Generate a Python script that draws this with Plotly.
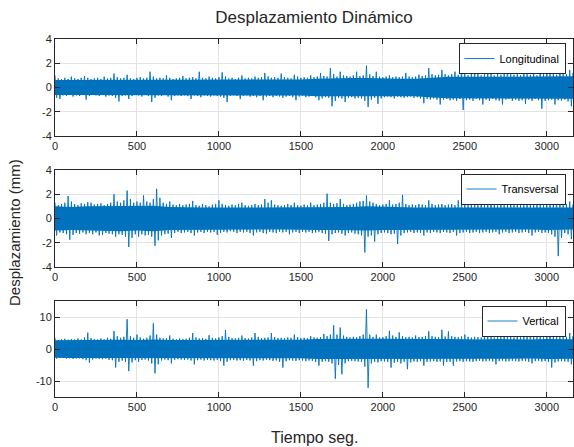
import plotly.graph_objects as go

# Time axis: envelope readings every STEP seconds
STEP = 20
CORE_STEP = 100
X_MAX = 3160
X_TICKS = [0, 500, 1000, 1500, 2000, 2500, 3000]

# Longitudinal: local upper / lower peaks per 20 s window (mm)
L_up = [
    1.0, 0.75, 0.7, 0.8, 0.7, 0.9, 0.75, 0.7, 0.8, 0.95,
    0.8, 0.7, 0.75, 0.8, 0.7, 0.9, 0.75, 0.8, 1.15, 0.85,
    0.75, 0.8, 1.05, 0.75, 0.7, 0.8, 0.85, 0.75, 0.8, 1.3,
    0.9, 0.75, 0.8, 0.75, 1.0, 0.8, 0.7, 0.75, 0.8, 0.95,
    0.75, 0.8, 0.85, 0.75, 1.3, 0.8, 0.75, 0.9, 0.8, 0.75,
    0.85, 1.25, 0.9, 0.75, 0.8, 0.7, 0.8, 1.0, 0.75, 0.8,
    0.75, 0.9, 0.8, 0.85, 1.2, 0.9, 0.8, 0.85, 0.8, 1.15,
    0.85, 0.8, 0.75, 1.05, 0.9, 0.8, 0.85, 0.8, 1.0, 0.85,
    0.9, 1.2, 0.95, 0.9, 1.6, 1.1, 0.9, 1.3, 1.0, 0.95,
    0.9, 1.0, 1.3, 0.95, 1.0, 1.8, 1.1, 0.95, 1.3, 0.9,
    0.85, 0.9, 1.0, 0.85, 0.9, 0.85, 0.9, 1.2, 0.9, 0.85,
    0.9, 1.05, 0.95, 1.0, 1.6, 1.1, 1.0, 1.05, 1.45, 1.1,
    1.0, 1.1, 1.3, 1.05, 1.55, 1.1, 1.0, 1.15, 1.3, 1.2,
    1.0, 1.1, 1.3, 1.15, 1.0, 1.1, 1.05, 1.15, 1.45, 1.1,
    1.05, 1.1, 1.0, 1.3, 1.1, 1.05, 1.15, 1.0, 1.45, 1.1,
    1.6, 1.2, 1.1, 1.05, 1.8, 1.2, 1.1, 1.45, 1.2,
]
L_lo = [
    -0.85, -0.95, -0.65, -0.7, -0.6, -0.75, -0.65, -0.7, -0.6, -1.0,
    -0.7, -0.6, -0.65, -0.7, -0.6, -0.75, -0.65, -0.7, -0.85, -1.15,
    -0.7, -0.65, -0.95, -0.7, -0.6, -0.65, -0.75, -0.6, -0.7, -1.2,
    -0.85, -0.65, -0.7, -0.6, -0.75, -1.05, -0.7, -0.65, -0.7, -0.65,
    -0.7, -0.95, -0.65, -0.7, -0.8, -0.65, -0.7, -0.75, -0.65, -0.7,
    -0.75, -0.85, -1.2, -0.7, -0.65, -0.7, -0.95, -0.7, -0.65, -0.75,
    -0.7, -0.8, -0.7, -1.05, -0.75, -0.7, -0.8, -0.7, -0.75, -0.85,
    -0.75, -0.7, -0.8, -1.05, -0.75, -0.7, -0.8, -0.75, -0.7, -0.8,
    -1.05, -0.9, -0.8, -0.85, -1.55, -1.1, -0.85, -0.9, -1.2, -0.85,
    -0.8, -0.9, -0.85, -0.9, -1.1, -1.6, -1.0, -0.85, -1.35, -0.9,
    -0.8, -0.75, -0.8, -0.9, -0.75, -0.8, -0.85, -0.8, -0.75, -0.85,
    -0.8, -0.9, -1.3, -0.95, -1.0, -0.9, -1.0, -1.4, -1.0, -0.95,
    -1.05, -1.0, -1.1, -0.95, -1.85, -1.05, -1.0, -1.1, -0.95, -1.05,
    -1.4, -1.0, -1.1, -0.95, -1.05, -1.1, -1.4, -1.0, -0.95, -1.1,
    -1.0, -1.1, -1.05, -1.35, -1.0, -1.1, -0.95, -1.05, -1.75, -1.1,
    -1.05, -1.0, -1.4, -1.05, -1.1, -1.0, -1.15, -1.55, -1.1,
]
# half-width of the dense core of the signal, per 100 s window
L_core = [
    0.62, 0.62, 0.62, 0.62, 0.67, 0.62, 0.67, 0.62, 0.62, 0.67,
    0.67, 0.62, 0.67, 0.67, 0.67, 0.67, 0.72, 0.78, 0.78, 0.78,
    0.72, 0.72, 0.72, 0.82, 0.88, 0.88, 0.88, 0.92, 0.88, 0.88,
    0.92, 0.92, 0.92,
]

# Transversal
T_up = [
    1.3, 1.1, 1.2, 1.3, 1.85, 1.4, 1.2, 1.1, 1.25, 1.2,
    1.35, 1.3, 1.15, 1.2, 1.25, 1.1, 1.2, 1.3, 2.0, 1.4,
    1.3, 1.5, 2.3, 1.6, 1.3, 1.4, 1.3, 1.9, 1.4, 1.3,
    1.6, 2.45, 1.7, 1.3, 1.2, 1.4, 1.15, 1.1, 1.2, 1.1,
    1.15, 1.2, 1.45, 1.1, 1.05, 1.2, 1.1, 1.0, 1.15, 1.2,
    1.5, 1.2, 1.1, 1.05, 1.15, 1.1, 1.2, 1.3, 1.1, 1.05,
    1.1, 1.2, 1.1, 1.15, 1.6, 1.3, 1.5, 1.15, 1.1, 1.05,
    1.1, 1.2, 1.1, 1.3, 1.1, 1.05, 1.15, 1.1, 1.3, 1.1,
    1.15, 1.2, 1.3, 2.05, 1.3, 1.2, 1.25, 1.6, 1.2, 1.1,
    1.15, 1.2, 1.3, 1.4, 1.45, 1.9, 1.4, 1.3, 1.2, 1.1,
    1.15, 1.2, 1.5, 1.15, 1.2, 1.3, 1.95, 1.2, 1.1, 1.15,
    1.1, 1.2, 1.15, 1.1, 1.5, 1.2, 1.1, 1.15, 1.2, 1.1,
    1.15, 1.2, 1.1, 1.5, 1.3, 1.15, 1.1, 1.2, 1.3, 1.1,
    1.15, 1.1, 1.2, 1.4, 1.15, 1.1, 1.2, 1.1, 1.15, 1.4,
    1.1, 1.15, 1.2, 1.1, 1.15, 1.3, 1.1, 1.2, 1.15, 1.1,
    1.15, 1.2, 1.3, 1.7, 1.4, 1.15, 1.2, 1.4, 1.15,
]
T_lo = [
    -1.4, -1.15, -1.2, -1.3, -1.75, -1.35, -1.2, -1.25, -1.15, -1.3,
    -1.2, -1.3, -1.15, -1.4, -1.35, -1.2, -1.25, -1.3, -1.5, -1.3,
    -1.35, -1.5, -2.35, -1.6, -1.3, -1.5, -1.3, -1.4, -1.35, -1.5,
    -2.25, -1.8, -1.4, -1.3, -1.25, -1.6, -1.2, -1.1, -1.2, -1.15,
    -1.1, -1.2, -1.4, -1.15, -1.1, -1.2, -1.1, -1.15, -1.1, -1.35,
    -1.2, -1.1, -1.15, -1.05, -1.1, -1.2, -1.1, -1.15, -1.1, -1.2,
    -1.4, -1.15, -1.1, -1.2, -1.25, -1.1, -1.15, -1.2, -1.1, -1.15,
    -1.1, -1.3, -1.15, -1.1, -1.2, -1.1, -1.15, -1.1, -1.2, -1.15,
    -1.1, -1.2, -1.25, -1.85, -1.3, -1.2, -1.15, -1.25, -1.4, -1.2,
    -1.15, -1.25, -1.3, -1.4, -2.8, -1.5, -1.4, -1.9, -1.3, -1.2,
    -1.15, -1.2, -1.3, -1.25, -2.1, -1.4, -1.2, -1.15, -1.1, -1.2,
    -1.15, -1.2, -1.4, -1.15, -1.2, -1.1, -1.15, -1.2, -1.1, -1.15,
    -1.2, -1.1, -1.4, -1.2, -1.15, -1.1, -1.2, -1.15, -1.1, -1.2,
    -1.15, -1.1, -1.2, -1.15, -1.1, -1.3, -1.15, -1.1, -1.2, -1.15,
    -1.1, -1.2, -1.15, -1.1, -1.2, -1.4, -1.15, -1.1, -1.2, -1.15,
    -1.2, -1.3, -1.5, -3.1, -1.6, -1.2, -1.3, -1.7, -1.25,
]
T_core = [
    1.0, 0.95, 1.0, 1.0, 1.05, 1.0, 1.05, 0.95, 0.9, 0.9,
    0.9, 0.9, 0.9, 0.9, 0.9, 0.9, 0.95, 0.95, 0.95, 1.0,
    0.95, 0.95, 0.9, 0.9, 0.9, 0.9, 0.9, 0.9, 0.9, 0.9,
    0.95, 0.95, 0.9,
]

# Vertical
V_up = [
    3.5, 2.8, 3.0, 3.2, 2.9, 3.1, 3.0, 3.3, 3.0, 3.6,
    5.1, 3.4, 3.1, 3.0, 3.3, 3.0, 3.5, 3.2, 5.6, 4.0,
    3.5, 3.8, 9.3, 4.0, 3.5, 4.5, 3.6, 3.2, 3.5, 4.2,
    8.0, 4.5, 3.5, 3.3, 3.4, 4.2, 3.2, 3.0, 3.3, 3.1,
    3.2, 3.5, 5.0, 3.6, 3.3, 3.4, 3.2, 4.3, 3.5, 3.3,
    3.6, 4.0, 5.9, 3.8, 3.4, 3.3, 3.5, 4.2, 3.4, 3.3,
    3.6, 5.0, 3.8, 3.4, 3.5, 3.6, 5.0, 3.7, 3.4, 3.5,
    3.4, 3.6, 3.5, 4.5, 3.7, 3.4, 3.5, 3.3, 4.0, 3.6,
    3.5, 3.7, 4.7, 4.0, 4.5, 7.4, 4.5, 6.7, 4.2, 3.8,
    3.6, 3.8, 3.6, 4.0, 4.5, 12.4, 4.5, 3.8, 4.5, 3.6,
    3.7, 4.0, 5.7, 4.2, 3.8, 5.2, 4.0, 3.7, 3.8, 3.6,
    4.2, 3.7, 3.8, 4.0, 5.5, 4.0, 3.8, 3.7, 6.0, 3.9,
    5.5, 4.0, 3.8, 3.7, 3.9, 4.5, 3.8, 3.6, 3.8, 3.7,
    3.6, 4.2, 3.8, 3.7, 3.6, 3.8, 3.7, 4.5, 4.0, 3.7,
    3.6, 3.8, 3.7, 3.9, 3.8, 5.0, 3.9, 3.7, 3.8, 3.7,
    4.0, 5.7, 4.0, 3.8, 3.7, 3.9, 3.8, 5.0, 4.0,
]
V_lo = [
    -3.0, -2.7, -2.8, -3.0, -2.9, -3.1, -3.0, -2.9, -3.2, -3.5,
    -4.3, -3.3, -3.0, -3.1, -3.2, -3.0, -3.4, -3.5, -5.8, -4.0,
    -3.6, -4.0, -6.9, -4.2, -3.5, -4.0, -3.4, -3.3, -3.6, -4.5,
    -7.6, -4.8, -3.6, -3.3, -3.5, -4.5, -3.4, -3.2, -3.3, -3.4,
    -3.3, -3.6, -4.8, -3.5, -3.3, -3.6, -3.4, -3.5, -3.6, -3.4,
    -3.8, -5.2, -4.0, -3.5, -3.4, -3.6, -3.5, -3.7, -3.4, -3.6,
    -5.2, -3.8, -3.5, -3.6, -3.4, -3.5, -3.7, -3.6, -4.0, -5.8,
    -3.8, -3.5, -3.6, -3.7, -3.5, -3.6, -3.8, -3.6, -3.7, -4.0,
    -5.2, -4.0, -3.8, -4.0, -4.5, -9.3, -5.0, -7.9, -4.5, -3.8,
    -3.7, -3.8, -3.9, -4.0, -5.5, -12.1, -4.5, -4.0, -4.2, -3.8,
    -3.9, -4.0, -5.8, -4.3, -4.0, -4.5, -4.0, -6.3, -4.2, -3.9,
    -4.0, -3.8, -5.2, -4.0, -3.9, -3.8, -4.0, -3.9, -5.2, -4.0,
    -4.0, -5.2, -3.9, -3.8, -4.0, -3.8, -3.9, -4.0, -3.8, -3.7,
    -3.9, -3.8, -3.7, -3.9, -4.8, -3.8, -3.7, -3.9, -3.8, -3.7,
    -3.8, -3.9, -3.7, -3.8, -4.0, -4.5, -3.8, -3.7, -3.9, -3.8,
    -4.0, -5.8, -4.2, -3.9, -3.8, -3.9, -4.0, -4.8, -3.9,
]
V_core = [
    2.7, 2.8, 2.8, 2.9, 2.9, 2.8, 3.0, 2.8, 2.8, 2.8,
    2.9, 2.8, 2.9, 2.9, 2.9, 2.9, 3.1, 3.2, 3.2, 3.2,
    3.2, 3.1, 3.2, 3.1, 3.1, 3.0, 3.0, 3.1, 3.0, 3.0,
    3.1, 3.1, 3.0,
]

SERIES = ["Longitudinal", "Transversal", "Vertical"]
Y_RANGES = [[-4, 4], [-4, 4], [-15, 15]]
Y_TICKS = [[-4, -2, 0, 2, 4], [-4, -2, 0, 2, 4], [-10, 0, 10]]

LINE = "#0072BD"
AX = "#262626"
GRID = "#e3e3e3"
FONT = "Liberation Sans, Arial, sans-serif"

W, H = 574, 447
ML, MR, MT, MB = 55, 1, 39, 50
PH = H - MT - MB
# panel pixel extents (top, bottom)
PANELS = [(39, 136), (170, 267), (301, 397)]
# vertical centre of each legend box
LEGEND_MID = [58.5, 189, 321]


def py(px):
    """Convert a pixel row to paper y."""
    return (H - MB - px) / PH


def px_x(px):
    return (px - ML) / (W - ML - MR)


def zigzag(up, lo):
    xs, ys = [], []
    for i, (u, l) in enumerate(zip(up, lo)):
        t = i * STEP
        xs += [t, t + STEP / 2]
        ys += [u, l]
    return xs, ys


def core_band(core):
    ts = [i * CORE_STEP for i in range(len(core))]
    return ts + ts[::-1], list(core) + [-c for c in core[::-1]]


fig = go.Figure()
data = [(L_up, L_lo, L_core), (T_up, T_lo, T_core), (V_up, V_lo, V_core)]

for k, (name, (up, lo, core)) in enumerate(zip(SERIES, data)):
    sfx = "" if k == 0 else str(k + 1)
    # dense core of the oscillation
    bx, by = core_band(core)
    fig.add_trace(go.Scatter(
        x=bx, y=by, mode="lines", fill="toself", fillcolor=LINE,
        line=dict(color=LINE, width=0), xaxis="x" + sfx, yaxis="y" + sfx,
        showlegend=False, hoverinfo="skip",
    ))
    # peaks of the signal
    xs, ys = zigzag(up, lo)
    fig.add_trace(go.Scatter(
        x=xs, y=ys, mode="lines", name=name,
        line=dict(color=LINE, width=0.9, simplify=False),
        xaxis="x" + sfx, yaxis="y" + sfx,
        legend="legend" + sfx, showlegend=True, hoverinfo="skip",
    ))
    top, bot = PANELS[k]
    common = dict(
        showline=True, linecolor=AX, linewidth=1, mirror="ticks",
        ticks="inside", ticklen=5, tickcolor=AX, tickwidth=1,
        showgrid=True, gridcolor=GRID, gridwidth=1, zeroline=False,
        tickfont=dict(family=FONT, size=11, color=AX),
    )
    fig.update_layout({
        "xaxis" + sfx: dict(
            domain=[0, 1], range=[0, X_MAX], anchor="y" + sfx,
            tickvals=X_TICKS, ticktext=[str(v) for v in X_TICKS], **common),
        "yaxis" + sfx: dict(
            domain=[py(bot), py(top)], range=Y_RANGES[k], anchor="x" + sfx,
            tickvals=Y_TICKS[k], ticktext=[str(v) for v in Y_TICKS[k]], **common),
        "legend" + sfx: dict(
            x=px_x(565.5), xanchor="right", y=py(LEGEND_MID[k]), yanchor="middle",
            bgcolor="white", bordercolor=AX, borderwidth=1,
            font=dict(family=FONT, size=11, color="#000000"),
            itemwidth=30, tracegroupgap=0,
        ),
    })

fig.update_layout(
    width=W, height=H,
    margin=dict(l=ML, r=MR, t=MT, b=MB),
    paper_bgcolor="white", plot_bgcolor="white",
    title=dict(text="Desplazamiento Dinámico", x=0.5, xref="paper",
               y=1 - 17 / H, yref="container", yanchor="middle",
               font=dict(family=FONT, size=17, color=AX)),
    annotations=[
        dict(text="Tiempo seg.", x=0.5, xref="paper", y=py(437), yref="paper",
             xanchor="center", yanchor="middle", showarrow=False,
             font=dict(family=FONT, size=16, color=AX)),
        dict(text="Desplazamiento (mm)", x=px_x(15), xref="paper", y=py(233),
             yref="paper", xanchor="center", yanchor="middle", textangle=-90,
             showarrow=False, font=dict(family=FONT, size=15, color=AX)),
    ],
)

fig.write_html("out.html")
